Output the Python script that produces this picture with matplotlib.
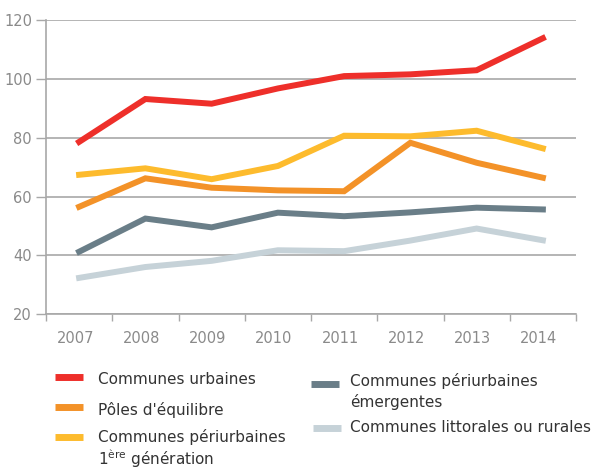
import matplotlib.pyplot as plt
from matplotlib.lines import Line2D
from matplotlib.ticker import FixedLocator, NullFormatter
from matplotlib.transforms import ScaledTranslation

years = [2007, 2008, 2009, 2010, 2011, 2012, 2013, 2014]

urbaines = [78.6, 93.2, 91.6, 96.8, 101.0, 101.6, 103.0, 113.9]
poles = [56.5, 66.2, 63.0, 62.1, 61.8, 78.3, 71.5, 66.4]
peri_1ere = [67.4, 69.6, 65.9, 70.4, 80.7, 80.5, 82.4, 76.4]
peri_emergentes = [41.2, 52.5, 49.5, 54.5, 53.3, 54.6, 56.2, 55.6]
littorales = [32.3, 36.0, 38.1, 41.7, 41.4, 45.0, 49.1, 45.1]

series = [
    (littorales, "#c6d2d8"),
    (peri_emergentes, "#6a7e88"),
    (poles, "#f39228"),
    (peri_1ere, "#fdbb2d"),
    (urbaines, "#ee2f2a"),
]

grid_col = "#a8a8a8"
tick_col = "#8a8a8a"
text_col = "#333333"

fig = plt.figure(figsize=(5.97, 4.69), dpi=100)
ax = fig.add_axes([46 / 597, 1 - 314 / 469, 530 / 597, 293.7 / 469])

for vals, col in series:
    ax.plot(years, vals, color=col, lw=4.3, solid_joinstyle="miter", zorder=3)

ax.set_xlim(2006.5, 2014.5)
ax.set_ylim(20, 120)
ax.set_yticks(range(20, 121, 20))
ax.yaxis.grid(True, color=grid_col, lw=1.2)
ax.set_axisbelow(True)

# ticks sit between years, labels under the points
ax.xaxis.set_major_locator(FixedLocator([y - 0.5 for y in years] + [years[-1] + 0.5]))
ax.xaxis.set_major_formatter(NullFormatter())
ax.xaxis.set_minor_locator(FixedLocator(years))
ax.set_xticklabels([str(y) for y in years], minor=True)
ax.tick_params(axis="x", which="major", length=5, color=grid_col, width=1)
ax.tick_params(axis="x", which="minor", length=0, pad=12, labelsize=10.5, labelcolor=tick_col)
ax.tick_params(axis="y", length=7, color=grid_col, width=1, labelsize=10.5, labelcolor=tick_col, pad=3)
shift = ScaledTranslation(-4 / 100, 0, fig.dpi_scale_trans)
for t in ax.get_xticklabels(minor=True):
    t.set_transform(t.get_transform() + shift)

for s in ["top", "right"]:
    ax.spines[s].set_visible(False)
for s in ["left", "bottom"]:
    ax.spines[s].set_color(grid_col)
    ax.spines[s].set_linewidth(1.2)

# legend drawn by hand in two columns
W, H = 597, 469


def handle(x0, x1, y, col):
    fig.add_artist(Line2D([x0 / W, x1 / W], [1 - y / H, 1 - y / H],
                          color=col, lw=5, solid_capstyle="butt"))


def label(x, y, s):
    fig.text(x / W, 1 - y / H, s, fontsize=11, color=text_col, va="center", ha="left")


handle(55, 83, 377, "#ee2f2a")
label(98, 379, "Communes urbaines")
handle(55, 83, 407, "#f39228")
label(98, 410, "Pôles d'équilibre")
handle(55, 83, 437, "#fdbb2d")
label(98, 437, "Communes périurbaines")
label(98, 459, r"1$^{\mathregular{ère}}$ génération")

handle(311, 339, 384, "#6a7e88")
label(350, 381, "Communes périurbaines")
label(350, 402, "émergentes")
handle(313, 341, 428, "#c6d2d8")
label(350, 427, "Communes littorales ou rurales")

fig.savefig("out.png", dpi=100)
